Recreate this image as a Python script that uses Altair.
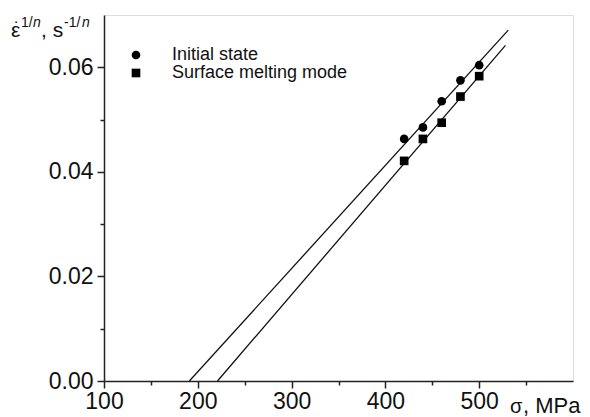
import altair as alt
import pandas as pd

# Data
sigma = [420, 440, 460, 480, 500]
initial_state = [0.0463, 0.0485, 0.0535, 0.0575, 0.0604]
surface_melting = [0.0421, 0.0463, 0.0494, 0.0544, 0.0583]

fit_initial_x = [191, 531]
fit_initial_y = [0.0, 0.0671]
fit_melt_x = [221, 528]
fit_melt_y = [0.0, 0.0642]

series_names = ["Initial state", "Surface melting mode"]
x_ticks = [100, 150, 200, 250, 300, 350, 400, 450, 500, 550]
y_ticks = [0.0, 0.01, 0.02, 0.03, 0.04, 0.05, 0.06]

pts = pd.DataFrame(
    {"sigma": sigma * 2,
     "rate": initial_state + surface_melting,
     "series": [series_names[0]] * len(sigma) + [series_names[1]] * len(sigma)}
)
fits = pd.DataFrame(
    {"sigma": fit_initial_x + fit_melt_x,
     "rate": fit_initial_y + fit_melt_y,
     "series": [series_names[0]] * 2 + [series_names[1]] * 2}
)

FONT = "Liberation Sans"

xscale = alt.Scale(domain=[100, 600], nice=False, zero=False)
yscale = alt.Scale(domain=[0, 0.07], nice=False)

xaxis = alt.Axis(
    values=x_ticks, title=None, grid=False, format="d",
    labelExpr="datum.value % 100 == 0 ? datum.label : ''",
    tickSize={"condition": {"test": "datum.value % 100 == 0", "value": 7}, "value": 4},
    labelFont=FONT, labelFontSize=23, labelColor="#111", labelPadding=2,
    domainColor="#222", domainWidth=1.5, tickColor="#222", tickWidth=1.5,
    labelFlush=False,
)
yaxis = alt.Axis(
    values=y_ticks, title=None, grid=False, format=".2f",
    labelExpr="round(datum.value * 100) % 2 == 0 ? datum.label : ''",
    tickSize={"condition": {"test": "round(datum.value * 100) % 2 == 0", "value": 7}, "value": 4},
    labelFont=FONT, labelFontSize=23, labelColor="#111", labelPadding=4,
    domainColor="#222", domainWidth=1.5, tickColor="#222", tickWidth=1.5,
    labelFlush=False,
)

lines = alt.Chart(fits).mark_line(color="#111", strokeWidth=1.3).encode(
    x=alt.X("sigma:Q", scale=xscale, axis=xaxis),
    y=alt.Y("rate:Q", scale=yscale, axis=yaxis),
    detail="series:N",
)

points = alt.Chart(pts).mark_point(filled=True, opacity=1, color="black", size=75).encode(
    x=alt.X("sigma:Q", scale=xscale),
    y=alt.Y("rate:Q", scale=yscale),
    shape=alt.Shape(
        "series:N",
        scale=alt.Scale(domain=series_names, range=["circle", "square"]),
        legend=alt.Legend(
            title=None, orient="none", legendX=23, legendY=31, padding=0,
            labelFont=FONT, labelFontSize=18, labelColor="#111", labelOffset=27,
            labelLimit=400,
            symbolFillColor="black", symbolStrokeColor="black", symbolSize=75,
            rowPadding=0,
        ),
    ),
)

one = alt.Data(values=[{}])

def txt(s, x, y, size, style="normal", font=FONT):
    return alt.Chart(one).mark_text(
        align="left", baseline="alphabetic", font=font, fontSize=size,
        fontStyle=style, color="#111"
    ).encode(x=alt.value(x), y=alt.value(y), text=alt.value(s))

title_layers = [
    txt("\u03b5", -93, 22, 21),
    txt("\u02d9", -90, 20, 18),
    txt("1/", -83, 12, 14),
    txt("n", -71, 12, 14, "italic"),
    txt(", s", -63, 22, 21),
    txt("-1/", -40, 12, 14),
    txt("n", -22, 12, 14, "italic"),
    txt("\u03c3", 406, 398, 20),
    txt(", MPa", 419, 398, 22),
]

chart = alt.layer(lines, points, *title_layers).properties(
    width=469, height=366,
    autosize=alt.AutoSizeParams(type="none"),
    padding={"left": 96, "top": 7, "right": 9, "bottom": 36},
).configure_view(stroke="#666", strokeWidth=2).configure(background="white")

chart.save("out.html", embed_options={"renderer": "svg", "actions": False})
